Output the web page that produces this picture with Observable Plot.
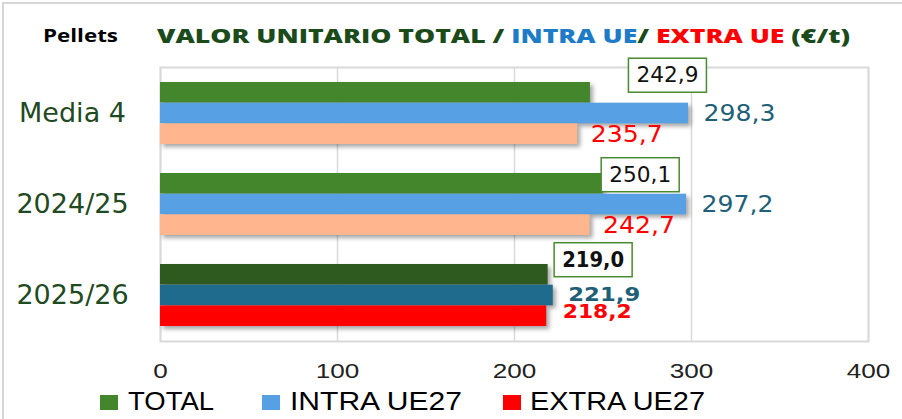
<!DOCTYPE html>
<html>
<head>
<meta charset="utf-8">
<script src="https://cdn.jsdelivr.net/npm/d3@7"></script>
<script src="https://cdn.jsdelivr.net/npm/@observablehq/plot@0.6"></script>
<style>
  html, body { margin: 0; padding: 0; background: #fff; }
  #wrap { position: relative; width: 902px; height: 419px; overflow: hidden; background: #fff; }
  #border { position: absolute; left: 2px; top: 2px; width: 920px; height: 440px;
            border-left: 2px solid #d6d6d6; border-top: 2px solid #d6d6d6; pointer-events: none; }
  #chart svg { display: block; }
  .bars { filter: drop-shadow(3px 3px 2px rgba(0,0,0,0.35)); }
</style>
</head>
<body>
<div id="wrap">
  <div id="chart"></div>
  <div id="border"></div>
</div>
<script>
// ---- data ----
const categories = ["Media 4", "2024/25", "2025/26"];
const series = ["TOTAL", "INTRA UE27", "EXTRA UE27"];
const totalValues = [242.9, 250.1, 219.0];
const intraValues = [298.3, 297.2, 221.9];
const extraValues = [235.7, 242.7, 218.2];
const xTicks = [0, 100, 200, 300, 400];
const titleLead = "Pellets";
const titleParts = ["VALOR UNITARIO TOTAL / ", "INTRA UE", "/ ", "EXTRA UE", " (€/t)"];

// ---- styles ----
const titleColors = ["#1b4a1b", "#1e7bc8", "#1b4a1b", "#ff0000", "#1b4a1b"];
const fillPast = {"TOTAL": "#44862c", "INTRA UE27": "#56a0e3", "EXTRA UE27": "#ffb58e"};
const fillCurrent = {"TOTAL": "#2f5a1f", "INTRA UE27": "#1f6b8e", "EXTRA UE27": "#ff0000"};
const legendColors = {"TOTAL": "#44862c", "INTRA UE27": "#56a0e3", "EXTRA UE27": "#ff0000"};
const current = categories[2];
const totalLabelOffset = {"Media 4": [38, -38], "2024/25": [-2, -29.5], "2025/26": [6, -35.5]};

const W = 902, H = 419, mL = 160, mR = 34, mT = 67, mB = 78;
const pIn = 0.32, pOut = 0.16;
const step = (H - mT - mB) / (categories.length - pIn + 2 * pOut);
const third = step * (1 - pIn) / 3;

const valuesBySeries = {"TOTAL": totalValues, "INTRA UE27": intraValues, "EXTRA UE27": extraValues};
const rows = categories.flatMap((c, i) => series.map(s => ({cat: c, series: s, value: valuesBySeries[s][i]})));
const fmt = v => d3.format(".1f")(v).replace(".", ",");
const sel = (s, cur) => rows.filter(d => d.series === s && (cur ? d.cat === current : d.cat !== current));

const marks = [
  Plot.gridX({ticks: xTicks, stroke: "#d9d9d9", strokeOpacity: 1, strokeWidth: 1.5}),
  Plot.frame({stroke: "#d9d9d9", strokeWidth: 2}),
  ...series.map((s, k) => Plot.barX(rows.filter(d => d.series === s), {
    x: "value", y: "cat",
    fill: d => (d.cat === current ? fillCurrent : fillPast)[s],
    insetTop: k * third, insetBottom: (2 - k) * third,
    className: "bars"
  })),
  Plot.axisX({ticks: xTicks, tickSize: 0, tickPadding: 22, fontSize: 20, fill: "#222",
              fontFamily: "Liberation Sans", tickFormat: d => String(d), label: null, className: "xticks"}),
  Plot.axisY({tickSize: 0, tickPadding: 88, textAnchor: "middle", fontSize: 27, fill: "#1f4a22", label: null}),
  // INTRA labels
  Plot.text(sel("INTRA UE27", false), {x: "value", y: "cat", text: d => fmt(d.value), textAnchor: "start",
    dx: 15, dy: 0, fill: "#1f5f78", fontSize: 23, className: "vlab"}),
  Plot.text(sel("INTRA UE27", true), {x: "value", y: "cat", text: d => fmt(d.value), textAnchor: "start",
    dx: 15, dy: -0.5, fill: "#1f5f78", fontSize: 20, fontWeight: "bold", className: "vlabb"}),
  // EXTRA labels
  Plot.text(sel("EXTRA UE27", false), {x: "value", y: "cat", text: d => fmt(d.value), textAnchor: "start",
    dx: 13, dy: 21.5, fill: "#ff0000", fontSize: 23, className: "vlab"}),
  Plot.text(sel("EXTRA UE27", true), {x: "value", y: "cat", text: d => fmt(d.value), textAnchor: "start",
    dx: 16, dy: 16, fill: "#ff0000", fontSize: 20, fontWeight: "bold", className: "vlabc"}),
  // TOTAL boxed labels
  ...categories.map(c => Plot.text(rows.filter(d => d.series === "TOTAL" && d.cat === c), {
    x: "value", y: "cat", text: d => fmt(d.value), textAnchor: "start",
    dx: totalLabelOffset[c][0] + 8, dy: totalLabelOffset[c][1],
    fill: "#111", fontSize: 21, fontWeight: c === current ? "bold" : "normal",
    className: "total-label"
  }))
];

const chart = Plot.plot({
  width: W, height: H,
  marginLeft: mL, marginRight: mR, marginTop: mT, marginBottom: mB,
  x: {domain: [0, 400], label: null},
  y: {domain: categories, paddingInner: pIn, paddingOuter: pOut, label: null},
  color: {type: "identity"},
  style: {fontFamily: "DejaVu Sans", background: "transparent", overflow: "visible"},
  marks
});
document.getElementById("chart").appendChild(chart);

// slight horizontal stretch of texts, as in the reference
const stretch = (selector, len) => chart.querySelectorAll(selector).forEach(t => {
  t.setAttribute("textLength", typeof len === "function" ? len(t) : len);
  t.setAttribute("lengthAdjust", "spacingAndGlyphs");
});
stretch("g.xticks text", t => 14.5 * t.textContent.length);
stretch("g.vlab text", 72);
stretch("g.vlabb text", 72);
stretch("g.vlabc text", 69);
stretch("g.total-label text", 62);

// boxes around TOTAL labels
chart.querySelectorAll("g.total-label text").forEach(t => {
  const b = t.getBBox();
  const r = document.createElementNS("http://www.w3.org/2000/svg", "rect");
  r.setAttribute("x", b.x - 8);
  r.setAttribute("y", b.y - 5);
  r.setAttribute("width", b.width + 16);
  r.setAttribute("height", b.height + 10);
  r.setAttribute("fill", "#fff");
  r.setAttribute("stroke", "#4a8a30");
  r.setAttribute("stroke-width", 1.5);
  const tr = t.getAttribute("transform");
  if (tr) r.setAttribute("transform", tr);
  t.parentNode.insertBefore(r, t);
});

// title and legend
const svg = d3.select(chart);
svg.append("text").attr("x", 43).attr("y", 42).attr("text-anchor", "start").attr("font-family", "Open Sans")
  .attr("font-weight", "bold").attr("font-size", 18).attr("fill", "#000")
  .attr("textLength", 75).attr("lengthAdjust", "spacingAndGlyphs").text(titleLead);
const tt = svg.append("text").attr("x", 157).attr("y", 43).attr("text-anchor", "start").attr("font-family", "Open Sans")
  .attr("font-weight", 800).attr("font-size", 20).attr("textLength", 693).attr("lengthAdjust", "spacingAndGlyphs");
titleParts.forEach((p, i) => tt.append("tspan").attr("fill", titleColors[i]).text(p));

const legendPos = [[100, 128, 86], [262, 290, 172], [503, 530, 175]];
series.forEach((s, i) => {
  const [sx, tx, tw] = legendPos[i];
  svg.append("rect").attr("x", sx).attr("y", 395).attr("width", 18).attr("height", 15).attr("fill", legendColors[s]);
  svg.append("text").attr("x", tx).attr("y", 410).attr("text-anchor", "start").attr("font-family", "Liberation Sans")
    .attr("font-size", 25).attr("fill", "#000").attr("textLength", tw).attr("lengthAdjust", "spacingAndGlyphs").text(s);
});
</script>
</body>
</html>
